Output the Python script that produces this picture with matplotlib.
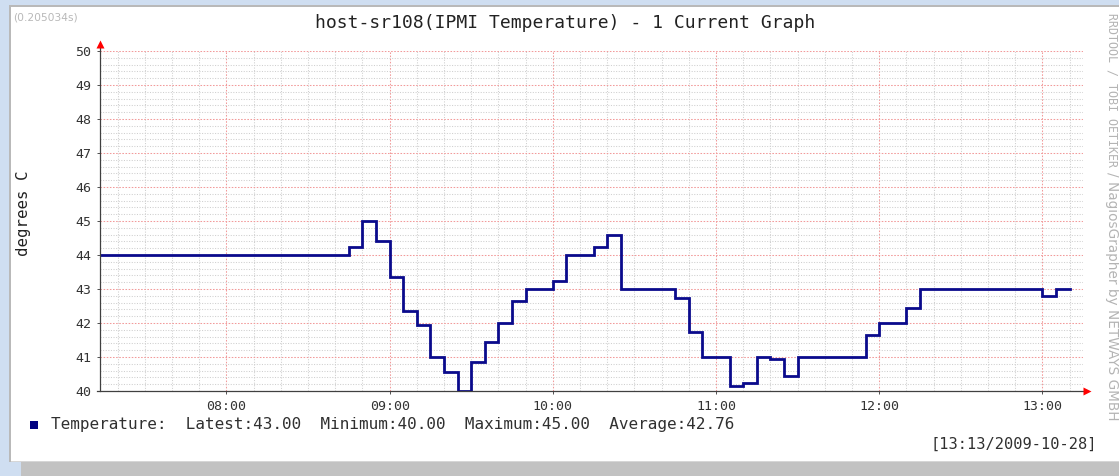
import matplotlib
matplotlib.use("Agg")
import matplotlib.pyplot as plt
import matplotlib.dates as mdates
from matplotlib.patches import Rectangle
from matplotlib.ticker import MultipleLocator
import pandas as pd

# sample times (5 min steps, value held until the next change) and temperatures
change_times = ["07:13", "08:45", "08:50", "08:55", "09:00", "09:05", "09:10",
                "09:15", "09:20", "09:25", "09:30", "09:35", "09:40", "09:45",
                "09:50", "10:00", "10:05", "10:15", "10:20", "10:25", "10:45",
                "10:50", "10:55", "11:05", "11:10", "11:15", "11:20", "11:25",
                "11:30", "11:55", "12:00", "12:10", "12:15", "13:00", "13:05",
                "13:10"]
temps = [44.0, 44.25, 45.0, 44.4, 43.35, 42.35, 41.95,
         41.0, 40.55, 40.0, 40.85, 41.45, 42.0, 42.65,
         43.0, 43.25, 44.0, 44.25, 44.6, 43.0, 42.75,
         41.75, 41.0, 40.15, 40.25, 41.0, 40.95, 40.45,
         41.0, 41.65, 42.0, 42.45, 43.0, 42.8, 43.0,
         43.0]
day = "2009-10-28"
view_start, view_end = "07:13:30", "13:14:55"
y_ticks = list(range(40, 51))

title = "host-sr108(IPMI Temperature) - 1 Current Graph"
legend_label = "Temperature:  Latest:43.00  Minimum:40.00  Maximum:45.00  Average:42.76"
stamp = "[13:13/2009-10-28]"
timing = "(0.205034s)"

W, H = 1119, 476
MONO = "DejaVu Sans Mono"
LINE = "#0a0a8c"


def fx(px):
    return px / W


def fy(py):
    return 1 - py / H


times = pd.to_datetime([f"{day} {t}" for t in change_times])

fig = plt.figure(figsize=(W / 100, H / 100), dpi=100, facecolor="white")

# frame around the canvas: blue page, grey border, grey shadow
bg = [((0, 0), W, 5, "#cfdef1"), ((0, 0), 9, H, "#cfdef1"), ((9, 462), 12, H - 462, "#cfdef1"),
      ((9, 5), W - 9, 2, "#b9b9b9"), ((9, 5), 2, 457, "#b9b9b9"),
      ((21, 462), W - 21, H - 462, "#c2c2c2"), ((11, 461), W - 11, 1, "#d6d6d6")]
for (x0, y0), w, h, c in bg:
    fig.patches.append(Rectangle((fx(x0), fy(y0 + h)), w / W, h / H, transform=fig.transFigure,
                                 facecolor=c, edgecolor="none", zorder=0))

ax = fig.add_axes([fx(100), 85 / H, (1083 - 100) / W, 340 / H])
ax.set_facecolor("white")
ax.step(times, temps, where="post", color=LINE, lw=2.0, zorder=5, solid_joinstyle="miter")

ax.set_xlim(pd.Timestamp(f"{day} {view_start}"), pd.Timestamp(f"{day} {view_end}"))
ax.set_ylim(40, 50)
ax.set_yticks(y_ticks)
ax.yaxis.set_minor_locator(MultipleLocator(0.2))
ax.xaxis.set_major_locator(mdates.HourLocator())
ax.xaxis.set_minor_locator(mdates.MinuteLocator(byminute=range(0, 60, 10)))
ax.xaxis.set_major_formatter(mdates.DateFormatter("%H:%M"))

ax.set_axisbelow(True)
ax.grid(which="minor", color="#cfcfcf", lw=0.75, ls=(0, (1, 1.5)))
ax.grid(which="major", color="#f29a9a", lw=0.75, ls=(0, (1.5, 1.5)))

for s in ["top", "right", "left", "bottom"]:
    ax.spines[s].set_visible(False)
ax.tick_params(which="major", length=2.5, width=0.7, color="#505050", direction="out",
               labelsize=9.5, labelcolor="#333333", labelfontfamily=MONO)
ax.tick_params(axis="y", pad=4)
ax.tick_params(axis="x", pad=4)
ax.tick_params(which="minor", length=0)

# axes with red arrow heads
ax.plot([0, 0], [0, 1.02], transform=ax.transAxes, color="#404040", lw=0.9, clip_on=False, zorder=6)
ax.plot([-0.003, 1.004], [0, 0], transform=ax.transAxes, color="#404040", lw=0.9, clip_on=False, zorder=6)
ax.plot([0], [1.02], marker="^", ms=5.5, color="red", mec="none", transform=ax.transAxes, clip_on=False, zorder=7)
ax.plot([1.004], [0], marker=">", ms=5.5, color="red", mec="none", transform=ax.transAxes, clip_on=False, zorder=7)

fig.text(fx(565), fy(23), title, ha="center", va="center", fontsize=13, family=MONO, color="#222222")
fig.text(fx(13), fy(18), timing, ha="left", va="center", fontsize=7.7, color="#b8b8b8")
fig.text(fx(24), fy(213), "degrees C", rotation=90, ha="center", va="center",
         fontsize=11.3, family=MONO, color="#222222")

fig.patches.append(Rectangle((fx(30), fy(429)), 8 / W, 8 / H, transform=fig.transFigure,
                             facecolor="#000080", edgecolor="none"))
fig.text(fx(51), fy(425), legend_label, ha="left", va="center", fontsize=11.5, family=MONO, color="#303030")
fig.text(fx(1097), fy(444), stamp, ha="right", va="center", fontsize=11.1, family=MONO, color="#303030")

fig.text(fx(1112), fy(13), "RRDTOOL / TOBI OETIKER", rotation=270, ha="center", va="top",
         fontsize=8.4, family=MONO, color="#b4b4b4")
fig.text(fx(1112), fy(172), "/ NagiosGrapher by NETWAYS GMBH", rotation=270, ha="center", va="top",
         fontsize=9.8, color="#b4b4b4")

fig.savefig("out.png", dpi=100)
